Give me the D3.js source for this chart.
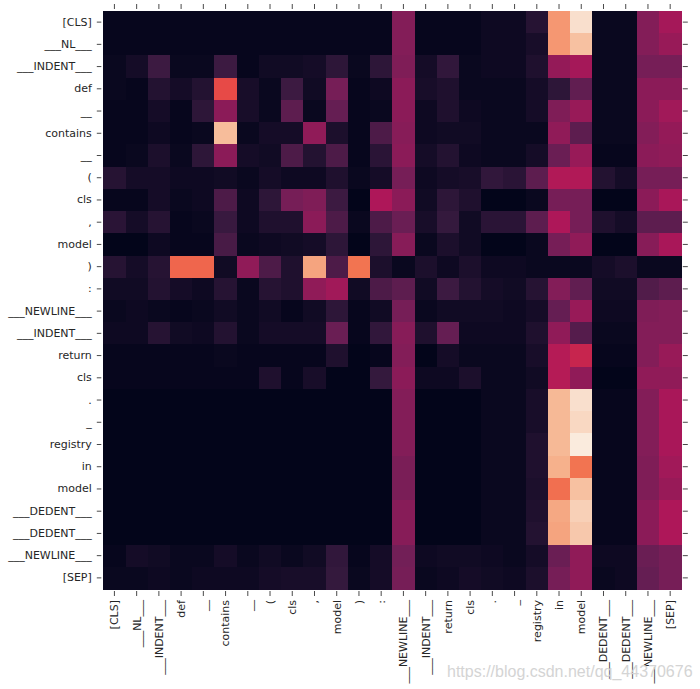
<!DOCTYPE html>
<html lang="en">
  <head>
    <meta charset="UTF-8" />
    <title>attention heatmap</title>
    <style>
      body {
        margin: 0;
        background: #fff;
      }
      svg {
        display: block;
      }
      .tick line {
        stroke: #4a4a4a;
        stroke-width: 1;
      }
      .cell {
        shape-rendering: crispEdges;
      }
      .mark {
        font-family: "Liberation Sans", Arial, sans-serif;
        font-size: 16px;
        fill: #d4d4d4;
      }
    </style>
  </head>
  <body>
    <script src="https://cdn.jsdelivr.net/npm/d3@7"></script>
    <script>
      // tokens, same on both axes
      const tokens = [
        "[CLS]", "___NL___", "___INDENT___", "def", "__", "contains", "__", "(",
        "cls", ",", "model", ")", ":", "___NEWLINE___", "___INDENT___", "return",
        "cls", ".", "_", "registry", "in", "model", "___DEDENT___", "___DEDENT___",
        "___NEWLINE___", "[SEP]"
      ];

      // attention weights, one row per query token (0..1)
      const weights = [
        [0.01,0.01,0.01,0.01,0.01,0.01, 0.01,0.01,0.01,0.01,0.01,0.01,0.01, 0.33, 0.01,0.01,0.01, 0.03,0.03,0.10, 0.79,0.97, 0.02,0.02, 0.33,0.41],
        [0.01,0.01,0.01,0.01,0.01,0.01, 0.01,0.01,0.01,0.01,0.01,0.01,0.01, 0.33, 0.01,0.01,0.01, 0.03,0.03,0.06, 0.79,0.89, 0.02,0.02, 0.33,0.38],
        [0.02,0.05,0.16,0.02,0.02,0.16, 0.01,0.04,0.04,0.05,0.12,0.02,0.12, 0.32, 0.05,0.13,0.02, 0.03,0.03,0.08, 0.37,0.41, 0.02,0.02, 0.30,0.30],
        [0.02,0.01,0.09,0.05,0.09,0.62, 0.06,0.02,0.16,0.04,0.30,0.01,0.03, 0.35, 0.06,0.08,0.02, 0.02,0.02,0.05, 0.12,0.25, 0.02,0.02, 0.35,0.35],
        [0.01,0.01,0.05,0.01,0.12,0.35, 0.06,0.02,0.24,0.02,0.26,0.01,0.02, 0.35, 0.03,0.08,0.03, 0.02,0.02,0.05, 0.32,0.38, 0.02,0.02, 0.35,0.40],
        [0.01,0.01,0.03,0.01,0.02,0.88, 0.02,0.05,0.05,0.36,0.07,0.01,0.20, 0.34, 0.03,0.04,0.04, 0.02,0.02,0.02, 0.36,0.24, 0.02,0.02, 0.33,0.37],
        [0.01,0.02,0.07,0.02,0.12,0.35, 0.05,0.04,0.20,0.09,0.20,0.01,0.11, 0.35, 0.05,0.09,0.03, 0.02,0.02,0.05, 0.27,0.38, 0.01,0.01, 0.35,0.36],
        [0.10,0.05,0.05,0.03,0.03,0.04, 0.02,0.05,0.03,0.03,0.08,0.02,0.05, 0.30, 0.03,0.05,0.06, 0.13,0.11,0.24, 0.44,0.44, 0.09,0.05, 0.30,0.30],
        [0.01,0.01,0.05,0.02,0.03,0.20, 0.03,0.12,0.30,0.32,0.16,0.00,0.43, 0.35, 0.04,0.12,0.08, 0.00,0.00,0.02, 0.30,0.30, 0.00,0.00, 0.35,0.42],
        [0.11,0.05,0.10,0.01,0.02,0.15, 0.03,0.08,0.08,0.35,0.20,0.02,0.20, 0.27, 0.06,0.14,0.04, 0.11,0.11,0.24, 0.43,0.30, 0.08,0.05, 0.24,0.24],
        [0.00,0.00,0.03,0.01,0.01,0.19, 0.02,0.03,0.04,0.05,0.12,0.00,0.12, 0.34, 0.02,0.07,0.04, 0.00,0.00,0.02, 0.30,0.36, 0.00,0.00, 0.34,0.42],
        [0.10,0.05,0.10,0.68,0.68,0.04, 0.36,0.20,0.08,0.82,0.20,0.71,0.07, 0.02, 0.07,0.03,0.07, 0.03,0.03,0.02, 0.02,0.02, 0.05,0.07, 0.02,0.02],
        [0.04,0.04,0.09,0.05,0.03,0.10, 0.02,0.10,0.08,0.36,0.40,0.04,0.20, 0.24, 0.04,0.16,0.09, 0.05,0.04,0.10, 0.33,0.25, 0.04,0.04, 0.21,0.24],
        [0.02,0.03,0.02,0.01,0.02,0.04, 0.02,0.04,0.01,0.04,0.12,0.01,0.04, 0.30, 0.02,0.04,0.04, 0.04,0.03,0.05, 0.26,0.38, 0.03,0.03, 0.32,0.33],
        [0.03,0.03,0.10,0.04,0.03,0.09, 0.02,0.05,0.05,0.05,0.27,0.01,0.13, 0.34, 0.08,0.26,0.03, 0.03,0.03,0.08, 0.36,0.22, 0.02,0.02, 0.33,0.33],
        [0.01,0.01,0.01,0.01,0.01,0.02, 0.01,0.01,0.01,0.01,0.08,0.00,0.01, 0.33, 0.00,0.05,0.02, 0.02,0.02,0.06, 0.45,0.50, 0.01,0.01, 0.33,0.38],
        [0.01,0.01,0.01,0.01,0.01,0.01, 0.01,0.08,0.01,0.06,0.00,0.00,0.14, 0.35, 0.03,0.03,0.07, 0.02,0.02,0.04, 0.45,0.36, 0.00,0.00, 0.36,0.36],
        [0.00,0.00,0.00,0.00,0.00,0.00, 0.00,0.00,0.00,0.00,0.00,0.00,0.00, 0.33, 0.00,0.00,0.00, 0.02,0.02,0.06, 0.87,0.97, 0.01,0.01, 0.33,0.42],
        [0.00,0.00,0.00,0.00,0.00,0.00, 0.00,0.00,0.00,0.00,0.00,0.00,0.00, 0.33, 0.00,0.00,0.00, 0.02,0.02,0.06, 0.87,0.95, 0.01,0.01, 0.33,0.42],
        [0.00,0.00,0.00,0.00,0.00,0.00, 0.00,0.00,0.00,0.00,0.00,0.00,0.00, 0.33, 0.00,0.00,0.00, 0.02,0.02,0.08, 0.87,1.00, 0.01,0.01, 0.33,0.42],
        [0.00,0.00,0.00,0.00,0.00,0.00, 0.00,0.00,0.00,0.00,0.00,0.00,0.00, 0.31, 0.00,0.00,0.00, 0.02,0.02,0.08, 0.85,0.71, 0.01,0.01, 0.32,0.40],
        [0.00,0.00,0.00,0.00,0.00,0.00, 0.00,0.00,0.00,0.00,0.00,0.00,0.00, 0.31, 0.00,0.00,0.00, 0.02,0.02,0.07, 0.70,0.89, 0.01,0.01, 0.32,0.38],
        [0.00,0.00,0.00,0.00,0.00,0.00, 0.00,0.00,0.00,0.00,0.00,0.00,0.00, 0.34, 0.00,0.00,0.00, 0.02,0.02,0.08, 0.83,0.93, 0.01,0.01, 0.35,0.43],
        [0.00,0.00,0.00,0.00,0.00,0.00, 0.00,0.00,0.00,0.00,0.00,0.00,0.00, 0.34, 0.00,0.00,0.00, 0.02,0.02,0.09, 0.82,0.91, 0.01,0.01, 0.35,0.43],
        [0.01,0.05,0.04,0.02,0.02,0.05, 0.02,0.04,0.02,0.04,0.13,0.01,0.05, 0.29, 0.03,0.04,0.04, 0.03,0.02,0.05, 0.27,0.36, 0.03,0.03, 0.27,0.30],
        [0.02,0.02,0.03,0.02,0.03,0.03, 0.03,0.05,0.06,0.06,0.14,0.02,0.05, 0.30, 0.02,0.03,0.05, 0.04,0.03,0.07, 0.30,0.36, 0.02,0.03, 0.26,0.30]
      ];

      // seaborn "rocket" colormap, sampled
      const rocketStops = [
        "#03051a", "#35193e", "#701f57", "#ad1759",
        "#e13342", "#f37651", "#f6b48f", "#faebdd"
      ];
      const rocketPos = [0, 1 / 7, 2 / 7, 3 / 7, 4 / 7, 5 / 7, 6 / 7, 1];

      const width = 700;
      const height = 689;
      const leftMargin = 103.3; // heatmap box
      const topMargin = 11;
      const size = 578;

      const svg = d3
        .select("body")
        .append("svg")
        .attr("width", width)
        .attr("height", height);

      const idx = d3.range(tokens.length);
      const x = d3.scaleBand().domain(idx).range([leftMargin, leftMargin + size]);
      const y = d3.scaleBand().domain(idx).range([topMargin, topMargin + size]);
      const color = d3
        .scaleLinear()
        .domain(rocketPos)
        .range(rocketStops)
        .interpolate(d3.interpolateRgb)
        .clamp(true);

      const cells = [];
      for (let r = 0; r < weights.length; r++) {
        for (let c = 0; c < weights[r].length; c++) {
          cells.push({ r: r, c: c, v: weights[r][c] });
        }
      }

      svg
        .append("g")
        .selectAll("rect")
        .data(cells)
        .join("rect")
        .attr("class", "cell")
        .attr("x", (d) => x(d.c))
        .attr("y", (d) => y(d.r))
        .attr("width", x.bandwidth() + 0.5)
        .attr("height", y.bandwidth() + 0.5)
        .attr("fill", (d) => color(d.v));

      const label = (i) => tokens[i];

      function styleText(g) {
        g.select(".domain").remove();
        g.selectAll("text")
          .style("font-family", "'DejaVu Sans', sans-serif")
          .style("font-size", "11px")
          .style("fill", "#262626");
      }

      // left axis with labels
      svg
        .append("g")
        .attr("transform", `translate(${leftMargin - 2},0)`)
        .call(d3.axisLeft(y).tickSize(4.5).tickPadding(5).tickFormat(label))
        .call(styleText);

      // right axis, ticks only
      svg
        .append("g")
        .attr("transform", `translate(${leftMargin + size + 1.5},0)`)
        .call(d3.axisRight(y).tickSize(5).tickFormat(""))
        .call(styleText);

      // top axis, ticks only
      svg
        .append("g")
        .attr("transform", `translate(0,${topMargin - 2})`)
        .call(d3.axisTop(x).tickSize(5).tickFormat(""))
        .call(styleText);

      // bottom axis, rotated labels
      svg
        .append("g")
        .attr("transform", `translate(0,${topMargin + size + 2})`)
        .call(d3.axisBottom(x).tickSize(5).tickFormat(label))
        .call(styleText)
        .selectAll("text")
        .attr("transform", "rotate(-90)")
        .attr("text-anchor", "end")
        .attr("x", -9)
        .attr("y", 0)
        .attr("dy", "0.35em");

      // blog watermark
      svg
        .append("text")
        .attr("class", "mark")
        .attr("x", 447)
        .attr("y", 677)
        .text("https://blog.csdn.net/qq_44370676");
    </script>
  </body>
</html>
